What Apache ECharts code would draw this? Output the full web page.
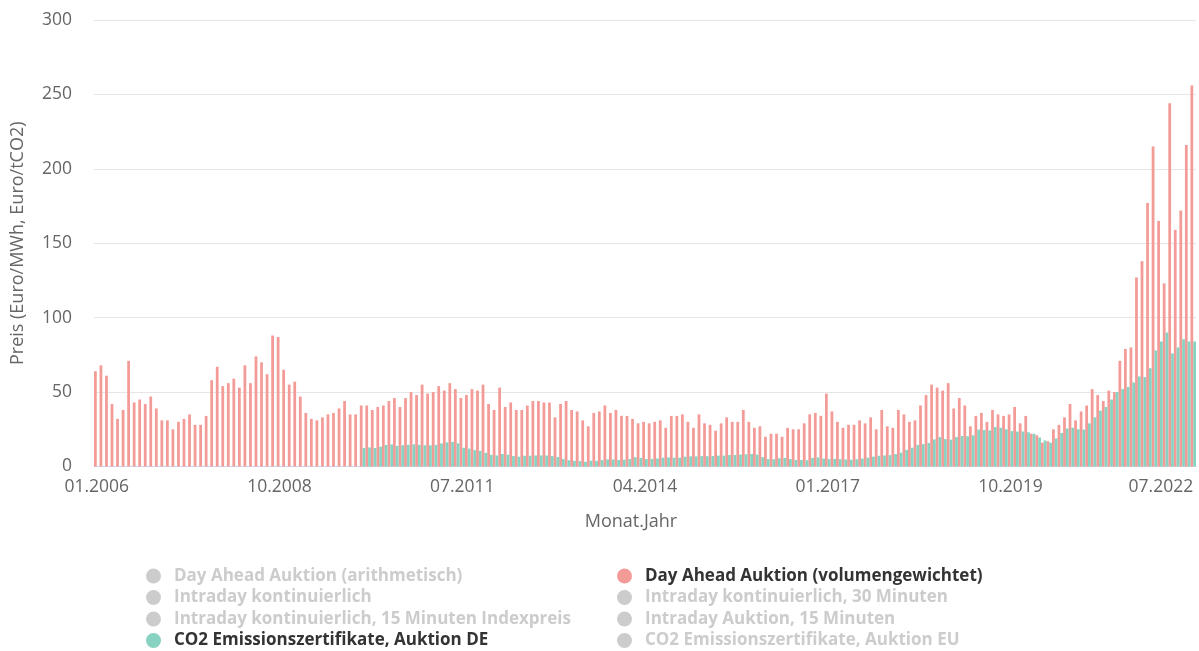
<!DOCTYPE html>
<html><head><meta charset="utf-8">
<script src="https://cdn.jsdelivr.net/npm/echarts@6/dist/echarts.min.js"></script>
<style>html,body{margin:0;padding:0;background:#fff}#c{width:1199px;height:651px}</style>
</head><body><div id="c"></div>
<script>
// Month categories 01.2006 .. 07.2022
const startYear = 2006, monthCount = 199;
const months = [];
for (let i = 0; i < monthCount; i++) {
  const m = i % 12 + 1, y = startYear + Math.floor(i / 12);
  months.push(String(m).padStart(2, '0') + '.' + y);
}

// Day Ahead Auktion (volumengewichtet), Euro/MWh
const dayAheadVol = [
  64,68,61,42,32,38,71,43,45,42,47,39,          // 2006
  31,31,25,30,32,35,28,28,34,58,67,54,          // 2007
  56,59,53,68,56,74,70,62,88,87,65,55,          // 2008
  57,47,36,32,31,33,35,36,39,44,35,35,          // 2009
  41,41,38,40,41,44,46,40,46,50,48,55,          // 2010
  49,50,54,51,56,52,46,48,52,51,55,42,          // 2011
  38,53,40,43,38,38,41,44,44,43,43,33,          // 2012
  42,44,38,37,31,27,36,37,41,36,38,34,          // 2013
  34,32,29,30,29,30,31,26,34,34,35,30,          // 2014
  26,35,29,28,24,29,33,30,30,38,30,26,          // 2015
  27,20,22,22,20,26,25,25,29,35,36,34,          // 2016
  49,37,30,26,28,28,31,29,33,25,38,27,          // 2017
  26,38,35,30,31,41,48,55,53,51,56,39,          // 2018
  46,41,27,34,36,30,38,35,34,35,40,29,          // 2019
  34,22,21,16,17,25,28,33,42,31,37,41,          // 2020
  52,48,44,51,50,71,79,80,127,138,177,215,      // 2021
  165,123,244,159,172,216,256                   // 2022
];

// CO2 Emissionszertifikate, Auktion DE, Euro/tCO2 (from 01.2010)
const co2StartIndex = 48;
const co2DEValues = [
  12.5,12.8,12.4,13.3,14.5,14.8,13.8,14.3,14.6,14.9,14.6,14.3,  // 2010
  14.2,14.5,15.5,16.2,16.5,15.5,12.6,12.0,11.0,10.5,9.2,7.8,    // 2011
  7.4,8.4,7.9,7.0,6.6,7.2,7.2,7.4,7.5,7.4,7.0,6.4,              // 2012
  5.0,4.2,3.8,3.6,3.2,3.9,3.8,4.3,4.8,4.7,4.4,4.6,              // 2013
  5.0,6.2,5.8,5.0,5.0,5.4,5.9,6.1,5.9,5.9,6.6,6.8,              // 2014
  6.8,7.0,6.9,7.0,7.3,7.3,7.7,7.7,8.0,8.2,8.4,8.0,              // 2015
  6.3,5.0,4.9,5.5,5.7,5.0,4.4,4.4,4.2,5.8,6.1,5.3,              // 2016
  5.0,5.1,4.9,4.7,4.5,4.9,5.3,5.9,6.6,7.2,7.4,7.6,              // 2017
  8.4,9.3,11.2,12.6,14.5,15.0,15.8,18.2,19.8,18.4,18.0,19.8,    // 2018
  20.5,20.3,21.0,24.8,24.5,24.2,26.5,26.0,25.0,23.8,23.5,23.5,  // 2019
  23.0,22.0,19.5,17.5,16.0,18.8,22.5,25.5,26.0,25.0,24.8,29.0,  // 2020
  33.0,37.5,40.0,45.0,50.0,52.0,53.5,56.5,60.5,60.0,66.0,78.0,  // 2021
  84.0,90.0,76.0,80.0,85.5,84.0,84.0                            // 2022
];
const co2DE = months.map((_, i) => i < co2StartIndex ? null : co2DEValues[i - co2StartIndex]);

const yTicks = [0, 50, 100, 150, 200, 250, 300];

const legendLeft = [
  'Day Ahead Auktion (arithmetisch)',
  'Intraday kontinuierlich',
  'Intraday kontinuierlich, 15 Minuten Indexpreis',
  'CO2 Emissionszertifikate, Auktion DE'
];
const legendRight = [
  'Day Ahead Auktion (volumengewichtet)',
  'Intraday kontinuierlich, 30 Minuten',
  'Intraday Auktion, 15 Minuten',
  'CO2 Emissionszertifikate, Auktion EU'
];
const activeSeries = ['Day Ahead Auktion (volumengewichtet)', 'CO2 Emissionszertifikate, Auktion DE'];

const allNames = [legendLeft[0], legendRight[0], legendLeft[1], legendRight[1], legendLeft[2], legendRight[2], legendLeft[3], legendRight[3]];
const selected = {};
allNames.forEach(n => selected[n] = activeSeries.includes(n));

const FONT = 'Open Sans';
const RED = '#f39b97', GREEN = '#87d2c0';

const series = allNames.map(n => {
  let data = [], color = '#ccc';
  if (n === activeSeries[0]) { data = dayAheadVol; color = RED; }
  if (n === activeSeries[1]) { data = co2DE; color = GREEN; }
  return { name: n, type: 'bar', data, itemStyle: { color }, barGap: '0%', barCategoryGap: '0%', animation: false };
});
series.sort((a, b) => (a.name === activeSeries[0] ? -1 : b.name === activeSeries[0] ? 1 : 0));

const legendCommon = {
  orient: 'vertical', icon: 'circle', itemWidth: 15, itemHeight: 15, padding: 0,
  inactiveColor: '#cccccc',
  textStyle: { fontFamily: FONT, fontSize: 17, fontWeight: 'bold', color: '#333', lineHeight: 21, padding: [0, 0, 0, 8] },
  selected
};
const rowTops = [565.5, 587, 608.5, 630];
const legends = [];
legendLeft.forEach((n, i) => legends.push(Object.assign({}, legendCommon, { left: 146, top: rowTops[i], data: [n] })));
legendRight.forEach((n, i) => legends.push(Object.assign({}, legendCommon, { left: 617, top: rowTops[i], data: [n] })));

const chart = echarts.init(document.getElementById('c'), null, { renderer: 'canvas' });
chart.setOption({
  animation: false,
  backgroundColor: '#fff',
  grid: { left: 94, right: 3, top: 20, bottom: 184.5, containLabel: false, outerBoundsMode: 'none' },
  legend: legends,
  xAxis: {
    type: 'category', data: months,
    name: 'Monat.Jahr', nameLocation: 'middle', nameGap: 46,
    nameTextStyle: { fontFamily: FONT, fontSize: 18, color: '#666', padding: [0, 28, 0, 0] },
    axisLine: { lineStyle: { color: '#ccd6eb', width: 1 } },
    axisTick: { show: false },
    axisLabel: { interval: 32, margin: 12, fontFamily: FONT, fontSize: 17.5, color: '#666', alignMaxLabel: 'right' },
    splitLine: { show: false }
  },
  yAxis: {
    type: 'value', min: yTicks[0], max: yTicks[yTicks.length - 1], interval: yTicks[1] - yTicks[0],
    name: 'Preis (Euro/MWh, Euro/tCO2)', nameLocation: 'middle', nameGap: 67, nameRotate: 90,
    nameTextStyle: { fontFamily: FONT, fontSize: 18, color: '#666' },
    axisLine: { show: false }, axisTick: { show: false },
    axisLabel: { margin: 22, fontFamily: FONT, fontSize: 17.5, color: '#666' },
    splitLine: { lineStyle: { color: '#e6e6e6', width: 1 } }
  },
  series
});
</script></body></html>
